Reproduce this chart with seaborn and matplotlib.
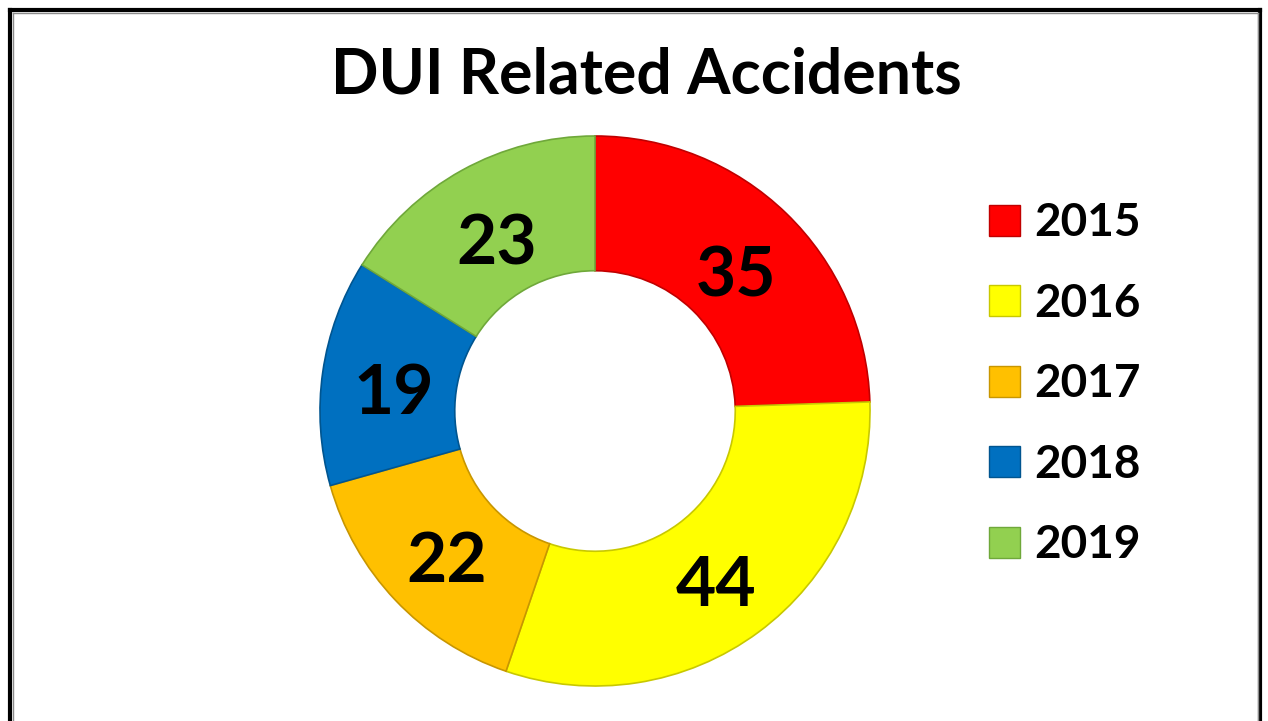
import matplotlib
matplotlib.use("Agg")
import matplotlib.pyplot as plt
from matplotlib.patches import Patch
from matplotlib.lines import Line2D
import numpy as np
import seaborn as sns

# data
years = ["2015", "2016", "2017", "2018", "2019"]
accidents = [35, 44, 22, 19, 23]
colors = ["#FF0000", "#FFFF00", "#FFC000", "#0070C0", "#92D050"]
edges = ["#C00000", "#C8C800", "#C89600", "#005590", "#6FA83A"]

sns.set_theme(style="white")
plt.rcParams["font.family"] = ["Lato", "DejaVu Sans"]
plt.rcParams["text.color"] = "black"

fig = plt.figure(figsize=(12.68, 7.21), dpi=100)
W, H = 1268, 721

# donut centred at (595, 411) px, outer radius 275 px
cx, cy, r = 595, 411, 275
ax = fig.add_axes([(cx - r) / W, (H - cy - r) / H, 2 * r / W, 2 * r / H])

wedges, _ = ax.pie(accidents, colors=colors, startangle=90, counterclock=False,
                   radius=1.0, wedgeprops=dict(width=0.49, linewidth=1.2))
for w, ec in zip(wedges, edges):
    w.set_edgecolor(ec)

# value labels in the middle of the ring
total = sum(accidents)
start = 90.0
for v in accidents:
    sweep = v / total * 360
    mid = np.deg2rad(start - sweep / 2)
    ax.text(0.74 * np.cos(mid), 0.74 * np.sin(mid) - 0.022, str(v), ha="center",
            va="center_baseline", fontsize=50, fontweight="bold", color="black")
    start -= sweep

ax.set_xlim(-1, 1)
ax.set_ylim(-1, 1)
ax.set_aspect("equal")
ax.axis("off")

fig.text(646 / W, 1 - 76 / H, "DUI Related Accidents", ha="center", va="center",
         fontsize=45, fontweight="bold", color="black")

handles = [Patch(facecolor=c, edgecolor=e, linewidth=1.0) for c, e in zip(colors, edges)]
leg = fig.legend(handles, years, loc="upper left", bbox_to_anchor=(948 / W, 1 - 161 / H),
                 frameon=False, prop=dict(weight="bold", size=33),
                 handlelength=0.66, handleheight=0.66, handletextpad=0.33, labelspacing=0.84)
for t in leg.get_texts():
    t.set_fontweight("bold")
    t.set_color("black")

# outer frame (bottom edge is cut off), black with a thin grey inner line
for off, color, lw in [(0, "black", 3.0), (2.5, "#8C8C8C", 1.0)]:
    segs = [([10 + off, 10 + off], [H + 5, 10 + off]),
            ([10 + off, 1260 - off], [10 + off, 10 + off]),
            ([1260 - off, 1260 - off], [10 + off, H + 5])]
    for xs, ys in segs:
        fig.add_artist(Line2D([x / W for x in xs], [1 - y / H for y in ys], color=color,
                              linewidth=lw, solid_capstyle="projecting"))

fig.savefig("out.png", dpi=100, facecolor="white")
